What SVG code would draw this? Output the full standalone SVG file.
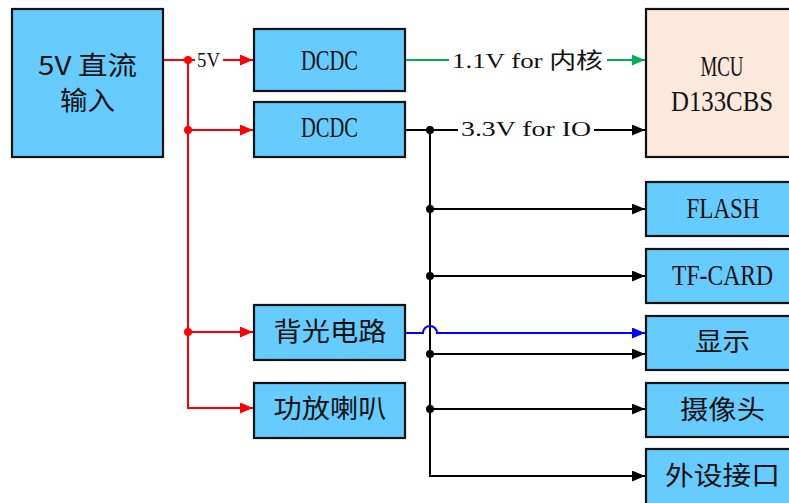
<svg xmlns="http://www.w3.org/2000/svg" width="789" height="503" viewBox="0 0 789 503">
<style>
.box{fill:#66CCFF;stroke:#111;stroke-width:2.2}
.mcu{fill:#FCE9DC;stroke:#111;stroke-width:2.2}
.t{font-family:"Liberation Serif","Noto Sans CJK SC",serif;fill:#111;text-anchor:middle}
.big{font-size:29px}
.cjk{font-family:"Noto Sans CJK SC","Liberation Serif",sans-serif;font-size:26px;fill:#111;text-anchor:middle}
.lbl{font-family:"Liberation Serif","Noto Sans CJK SC",serif;font-size:22px;fill:#111}
.ln{fill:none;stroke-width:2}
.red{stroke:#FF0000}
.blk{stroke:#000}
.grn{stroke:#00B050}
.blu{stroke:#0000FF}
</style>
<defs>
<marker id="ar" markerUnits="userSpaceOnUse" markerWidth="13" markerHeight="11" refX="13" refY="5.5" orient="auto"><path d="M0,0 L13,5.5 L0,11 z" fill="#FF0000"/></marker>
<marker id="ak" markerUnits="userSpaceOnUse" markerWidth="13" markerHeight="11" refX="13" refY="5.5" orient="auto"><path d="M0,0 L13,5.5 L0,11 z" fill="#000"/></marker>
<marker id="ag" markerUnits="userSpaceOnUse" markerWidth="13" markerHeight="11" refX="13" refY="5.5" orient="auto"><path d="M0,0 L13,5.5 L0,11 z" fill="#00B050"/></marker>
<marker id="ab" markerUnits="userSpaceOnUse" markerWidth="13" markerHeight="11" refX="13" refY="5.5" orient="auto"><path d="M0,0 L13,5.5 L0,11 z" fill="#0000FF"/></marker>
</defs>
<rect width="789" height="503" fill="#fff"/>
<g id="connectors">
<path class="ln red" d="M163,60 H253" marker-end="url(#ar)"/>
<path class="ln red" d="M188,60 V408 H253" marker-end="url(#ar)"/>
<path class="ln red" d="M188,130 H253" marker-end="url(#ar)"/>
<path class="ln red" d="M188,332 H253" marker-end="url(#ar)"/>
<g fill="#FF0000"><circle cx="188" cy="60" r="4"/><circle cx="188" cy="130" r="4"/><circle cx="188" cy="332" r="4"/></g>
<rect x="195" y="49" width="28" height="22" fill="#fff"/>
<text class="lbl" x="197" y="67" textLength="23" lengthAdjust="spacingAndGlyphs">5V</text>
<path class="ln grn" d="M405,60 H645" marker-end="url(#ag)"/>
<rect x="449" y="47" width="158" height="26" fill="#fff"/>
<text class="lbl" x="452" y="68" textLength="151" lengthAdjust="spacingAndGlyphs">1.1V for 内核</text>
<path class="ln blk" d="M405,130 H645" marker-end="url(#ak)"/>
<rect x="458" y="117" width="136" height="26" fill="#fff"/>
<text class="lbl" x="461" y="136" textLength="130" lengthAdjust="spacingAndGlyphs">3.3V for IO</text>
<path class="ln blk" d="M430,130 V476 H645" marker-end="url(#ak)"/>
<path class="ln blk" d="M430,209 H645" marker-end="url(#ak)"/>
<path class="ln blk" d="M430,276 H645" marker-end="url(#ak)"/>
<path class="ln blk" d="M430,354 H645" marker-end="url(#ak)"/>
<path class="ln blk" d="M430,409 H645" marker-end="url(#ak)"/>
<g fill="#000"><circle cx="430" cy="130" r="4"/><circle cx="430" cy="209" r="4"/><circle cx="430" cy="276" r="4"/><circle cx="430" cy="354" r="4"/><circle cx="430" cy="409" r="4"/></g>
<path class="ln blu" d="M405,333 H423 A7,7 0 0 1 437,333 H645" marker-end="url(#ab)"/>
</g>
<g id="input5v"><rect class="box" x="12" y="9" width="151" height="148"/>
<text class="cjk" x="87.5" y="75" textLength="99" lengthAdjust="spacingAndGlyphs">5V 直流</text>
<text class="cjk" x="87.5" y="110" textLength="55" lengthAdjust="spacingAndGlyphs">输入</text></g>
<g id="dcdc1"><rect class="box" x="254" y="29" width="151" height="62"/>
<text class="t big" x="329.5" y="70" textLength="57" lengthAdjust="spacingAndGlyphs">DCDC</text></g>
<g id="dcdc2"><rect class="box" x="254" y="102" width="151" height="55"/>
<text class="t big" x="329.5" y="137" textLength="57" lengthAdjust="spacingAndGlyphs">DCDC</text></g>
<g id="backlight"><rect class="box" x="254" y="305" width="151" height="55"/>
<text class="cjk" x="330" y="341" textLength="113" lengthAdjust="spacingAndGlyphs">背光电路</text></g>
<g id="amp"><rect class="box" x="254" y="383" width="151" height="55"/>
<text class="cjk" x="330" y="418" textLength="113" lengthAdjust="spacingAndGlyphs">功放喇叭</text></g>
<g id="mcu"><rect class="mcu" x="646" y="9" width="156" height="148"/>
<text class="t big" x="722" y="76" textLength="43" lengthAdjust="spacingAndGlyphs">MCU</text>
<text class="t big" x="722" y="111" textLength="102" lengthAdjust="spacingAndGlyphs">D133CBS</text></g>
<g id="flash"><rect class="box" x="646" y="182" width="156" height="54"/>
<text class="t big" x="723" y="218" textLength="73" lengthAdjust="spacingAndGlyphs">FLASH</text></g>
<g id="tfcard"><rect class="box" x="646" y="249" width="156" height="54"/>
<text class="t big" x="722.5" y="285" textLength="101" lengthAdjust="spacingAndGlyphs">TF-CARD</text></g>
<g id="display"><rect class="box" x="646" y="316" width="156" height="54"/>
<text class="cjk" x="722.5" y="351" textLength="55" lengthAdjust="spacingAndGlyphs">显示</text></g>
<g id="camera"><rect class="box" x="646" y="383" width="156" height="54"/>
<text class="cjk" x="722.5" y="419" textLength="85" lengthAdjust="spacingAndGlyphs">摄像头</text></g>
<g id="ports"><rect class="box" x="646" y="449" width="156" height="64"/>
<text class="cjk" x="722.5" y="485" textLength="115" lengthAdjust="spacingAndGlyphs">外设接口</text></g>
</svg>
